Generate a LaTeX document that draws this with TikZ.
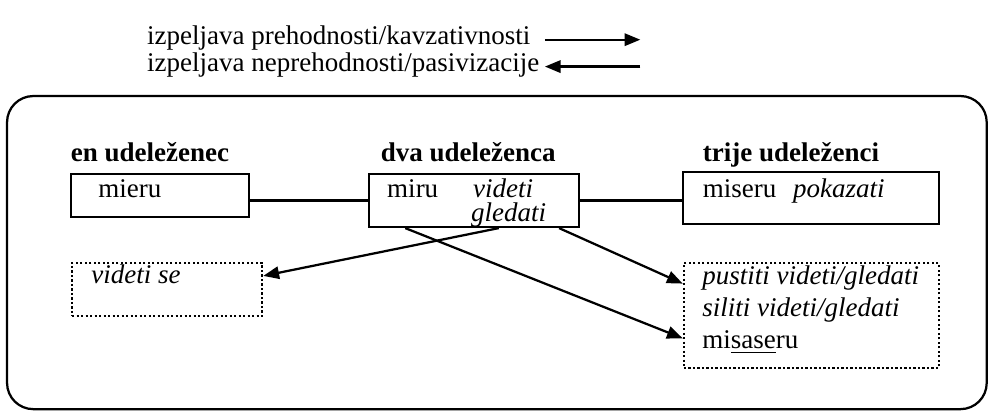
\documentclass[12pt,tikz,border=0pt]{standalone}
\usepackage{fontspec}
\setmainfont{Liberation Serif}
\usetikzlibrary{arrows.meta}

\begin{document}
\begin{tikzpicture}[>={Triangle[length=7pt, width=5.5pt]}, line width=1pt,
    lbl/.style={anchor=base west, inner sep=0pt},
    head/.style={lbl, font=\bfseries},
    frame/.style={draw, inner sep=0pt},
    dotbox/.style={draw, densely dotted, inner sep=0pt}]
    \useasboundingbox (0, 0) rectangle (15.43, -6.42);

    % LEGEND
    \node (leg1) at (2.28, -0.69) [lbl] {izpeljava prehodnosti/kavzativnosti};
    \node (leg2) at (2.28, -1.11) [lbl] {izpeljava neprehodnosti/pasivizacije};
    \coordinate (k1a) at (8.51, -0.62);
    \coordinate (k1b) at (10.00, -0.62);
    \coordinate (k2a) at (8.51, -1.04);
    \coordinate (k2b) at (10.00, -1.04);
    \draw[->] (k1a) -- (k1b);
    \draw[->] (k2b) -- (k2a);

    % FRAME
    \draw[rounded corners=0.41cm] (0.11, -1.50) rectangle (15.41, -6.39);

    % HEADINGS
    \node (h1) at (1.09, -2.53) [head] {en udeleženec};
    \node (h2) at (5.93, -2.53) [head] {dva udeleženca};
    \node (h3) at (10.96, -2.53) [head] {trije udeleženci};

    % BOXES
    \node (box1) at (2.50, -3.05) [frame, minimum width=2.78cm, minimum height=0.67cm] {};
    \node (box2) at (7.40, -3.13) [frame, minimum width=3.28cm, minimum height=0.83cm] {};
    \node (box3) at (12.67, -3.09) [frame, minimum width=4.00cm, minimum height=0.81cm] {};
    \node (vse) at (2.61, -4.52) [dotbox, minimum width=2.97cm, minimum height=0.83cm] {};
    \node (rbox) at (12.67, -4.93) [dotbox, minimum width=3.98cm, minimum height=1.64cm] {};

    % TEXTS
    \node (t1) at (1.52, -3.08) [lbl] {mieru};
    \node (t2) at (6.03, -3.08) [lbl] {miru};
    \node (t2a) at (7.37, -3.08) [lbl] {\itshape videti};
    \node (t2b) at (7.34, -3.46) [lbl] {\itshape gledati};
    \node (t3) at (10.96, -3.08) [lbl] {miseru};
    \node (t3a) at (12.37, -3.08) [lbl] {\itshape pokazati};
    \node (t4) at (1.41, -4.42) [lbl] {\itshape videti se};
    \node (t5a) at (10.95, -4.45) [lbl] {\itshape pustiti videti/gledati};
    \node (t5b) at (10.95, -4.95) [lbl] {\itshape siliti videti/gledati};
    \node (t5c) at (10.95, -5.45) [lbl] {mi\underline{sase}ru};

    % CONNEXIONS
    \draw (box1.east |- box2.west) -- (box2.west);
    \draw (box2.east) -- (box2.east -| box3.west);

    % DERIVATIONS
    \draw[->] (box2.-48) -- (vse.8);
    \draw[->] (box2.202) -- (rbox.190);
    \draw[->] (box2.-18) -- (rbox.166);
\end{tikzpicture}
\end{document}
